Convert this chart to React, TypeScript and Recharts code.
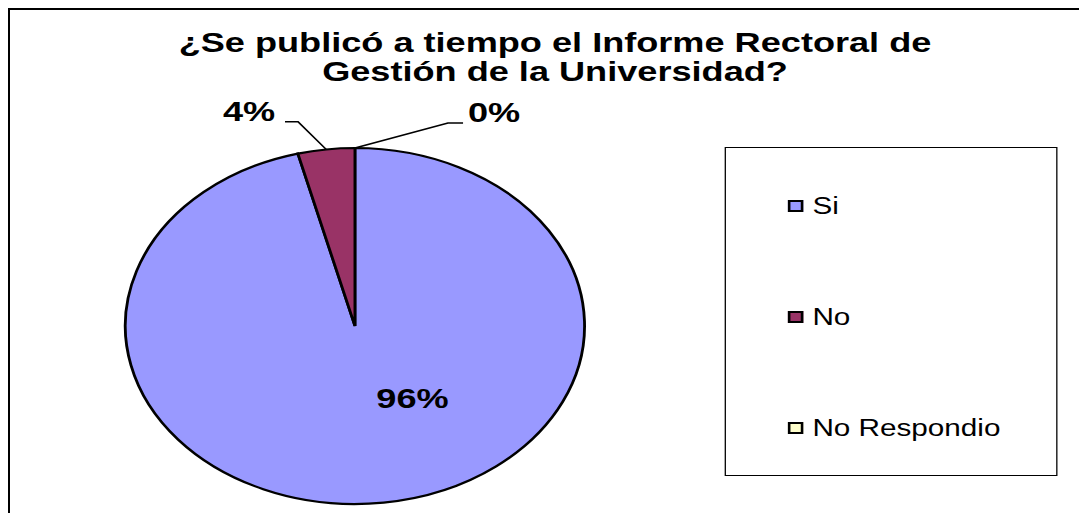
import { PieChart, Pie, Cell, Legend } from "recharts";

// answers to the survey question, in percent
const categories = ["Si", "No", "No Respondio"];
const values = [96, 4, 0];
const COLORS = ["#9999FF", "#993366", "#FFFFCC"];

const data = categories.map((name, i) => ({ name, value: values[i] }));

// the original chart was stretched sideways, so the pie is an ellipse
const STRETCH = 1.29;
const RAD = Math.PI / 180;
const FONT = "'Liberation Sans', Arial, sans-serif";

// leader lines for the small slices, relative to the slice's outer point
const LEADERS: Record<number, { elbow: number[]; end: number[]; text: number[]; anchor: "start" | "end" }> = {
  1: { elbow: [-21.8, -27.7], end: [-31.9, -27.7], text: [-39.6, -28.7], anchor: "end" },
  2: { elbow: [72.1, -25], end: [83.8, -25], text: [87.6, -26.3], anchor: "start" },
};

function renderLabel(props: any) {
  const { cx, cy, midAngle, outerRadius, index, percent } = props;
  const text = `${Math.round(percent * 100)}%`;
  const style = { fontSize: 28, fontWeight: 700, fontFamily: FONT };
  const lead = LEADERS[index];
  if (!lead) {
    return (
      <text x={cx + 44.6} y={cy + 82} textAnchor="middle" fill="#000" style={style}>
        {text}
      </text>
    );
  }
  const ox = cx + outerRadius * Math.cos(-midAngle * RAD);
  const oy = cy + outerRadius * Math.sin(-midAngle * RAD);
  return (
    <g>
      <polyline
        points={`${ox},${oy} ${ox + lead.elbow[0]},${oy + lead.elbow[1]} ${ox + lead.end[0]},${oy + lead.end[1]}`}
        fill="none"
        stroke="#000"
        strokeWidth={1.4}
      />
      <text x={ox + lead.text[0]} y={oy + lead.text[1]} textAnchor={lead.anchor} fill="#000" style={style}>
        {text}
      </text>
    </g>
  );
}

function renderLegend(props: any) {
  // keep the data order (recharts sorts legend items by name)
  const payload = [...(props.payload || [])].sort(
    (a: any, b: any) => categories.indexOf(a.value) - categories.indexOf(b.value)
  );
  return (
    <div style={{ position: "relative", width: "100%", height: "100%" }}>
      {payload.map((item: any, i: number) => (
        <div
          key={item.value}
          style={{
            position: "absolute",
            left: 48,
            top: 45 + i * 111,
            height: 26,
            display: "flex",
            alignItems: "center",
            fontSize: 23,
            color: "#000",
            whiteSpace: "nowrap",
          }}
        >
          <span
            style={{
              display: "inline-block",
              width: 8,
              height: 8,
              background: item.color,
              border: "2px solid #000",
              marginRight: 7,
            }}
          />
          {item.value}
        </div>
      ))}
    </div>
  );
}

export default function App() {
  return (
    <div
      style={{
        width: 1069,
        height: 503,
        borderLeft: "2px solid #000",
        borderTop: "2px solid #000",
        position: "relative",
        overflow: "hidden",
        fontFamily: FONT,
        background: "#fff",
      }}
    >
      <div
        style={{
          position: "absolute",
          left: 0,
          top: 0,
          width: 829,
          height: 503,
          transform: `scaleX(${STRETCH})`,
          transformOrigin: "0 0",
        }}
      >
        <div
          style={{
            position: "absolute",
            left: 72.5,
            width: 700,
            top: 18,
            textAlign: "center",
            fontSize: 28,
            fontWeight: 700,
            lineHeight: "29px",
            zIndex: 1,
          }}
        >
          ¿Se publicó a tiempo el Informe Rectoral de
          <br />
          Gestión de la Universidad?
        </div>
        <PieChart width={829} height={503} margin={{ top: 0, right: 0, bottom: 0, left: 0 }}>
          <Pie
            data={data}
            dataKey="value"
            nameKey="name"
            cx={267.4}
            cy={316}
            outerRadius={178}
            startAngle={90}
            endAngle={-270}
            stroke="#000"
            strokeWidth={2.2}
            labelLine={false}
            label={renderLabel}
            isAnimationActive={false}
          >
            {data.map((d, i) => (
              <Cell key={d.name} fill={COLORS[i]} />
            ))}
          </Pie>
          <Legend
            layout="vertical"
            align="right"
            verticalAlign="middle"
            content={renderLegend}
            wrapperStyle={{
              left: 554,
              top: 137,
              width: 258,
              height: 329,
              border: "1.5px solid #000",
              boxSizing: "border-box",
              background: "#fff",
            }}
          />
        </PieChart>
      </div>
    </div>
  );
}
